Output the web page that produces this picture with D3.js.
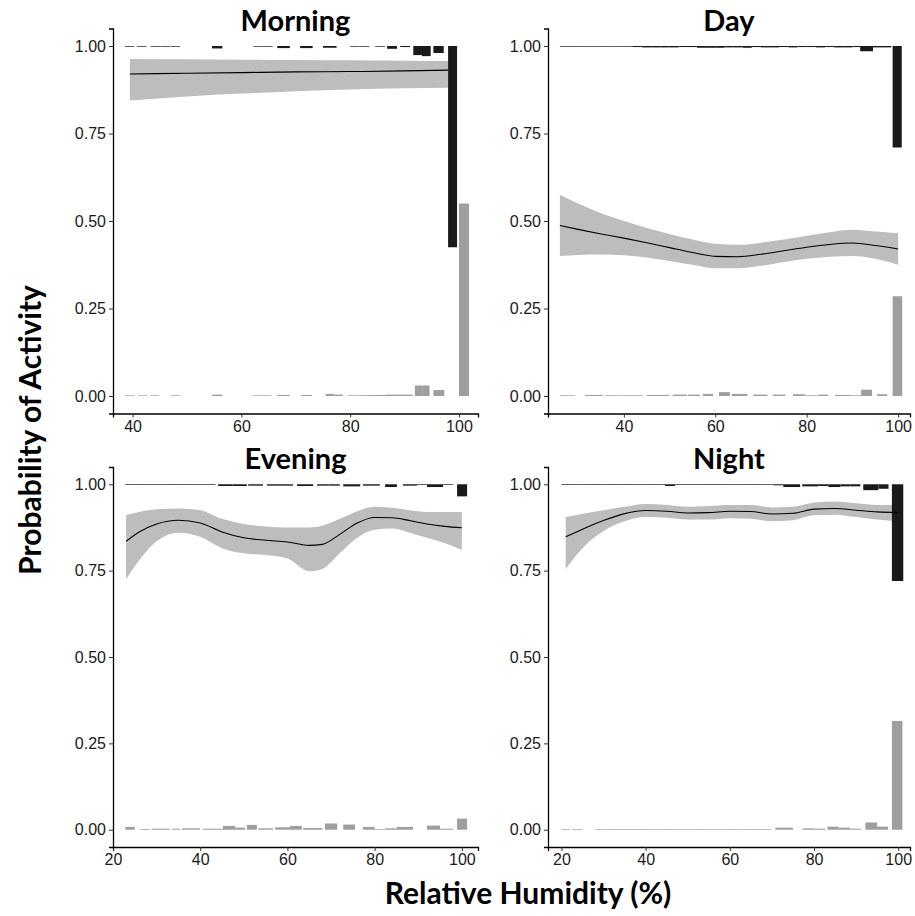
<!DOCTYPE html>
<html><head><meta charset="utf-8">
<script src="https://cdn.jsdelivr.net/npm/d3@7"></script>
<style>
html,body{margin:0;padding:0;background:#fff;}
svg{display:block;}
</style></head>
<body>
<svg id="chart" width="915" height="916"></svg>
<script>
// ---------------- DATA ----------------
const panelNames = ["Morning", "Day", "Evening", "Night"];
const yTicks = [0, 0.25, 0.5, 0.75, 1];
const yTickLabels = ["0.00", "0.25", "0.50", "0.75", "1.00"];
const xTicksMorning = [40, 60, 80, 100];
const xTicksDay = [40, 60, 80, 100];
const xTicksEvening = [20, 40, 60, 80, 100];
const xTicksNight = [20, 40, 60, 80, 100];

// fitted probability curves (RH, fit, lower, upper)
const morningRH    = [39.5, 50, 60, 70, 80, 90, 98];
const morningFit   = [0.920, 0.922, 0.924, 0.926, 0.927, 0.929, 0.931];
const morningLower = [0.844, 0.856, 0.864, 0.871, 0.876, 0.879, 0.881];
const morningUpper = [0.963, 0.962, 0.961, 0.960, 0.959, 0.958, 0.957];

const dayRH    = [26, 30, 35, 40, 45, 50, 55, 60, 65, 70, 75, 80, 85, 90, 95, 100];
const dayFit   = [0.487, 0.476, 0.463, 0.451, 0.438, 0.424, 0.410, 0.399, 0.398, 0.405, 0.415, 0.425, 0.433, 0.437, 0.430, 0.420];
const dayLower = [0.400, 0.403, 0.404, 0.402, 0.396, 0.386, 0.375, 0.365, 0.365, 0.372, 0.383, 0.392, 0.398, 0.400, 0.392, 0.375];
const dayUpper = [0.575, 0.550, 0.522, 0.500, 0.480, 0.463, 0.447, 0.435, 0.432, 0.438, 0.447, 0.458, 0.468, 0.475, 0.470, 0.465];

const eveningRH    = [23, 26, 30, 35, 40, 45, 50, 55, 60, 65, 68, 72, 76, 80, 84, 88, 92, 96, 100];
const eveningFit   = [0.835, 0.862, 0.885, 0.896, 0.888, 0.862, 0.845, 0.838, 0.833, 0.823, 0.826, 0.855, 0.888, 0.904, 0.903, 0.895, 0.885, 0.878, 0.874];
const eveningLower = [0.725, 0.780, 0.835, 0.860, 0.848, 0.815, 0.800, 0.795, 0.785, 0.748, 0.755, 0.800, 0.845, 0.868, 0.872, 0.860, 0.845, 0.830, 0.810];
const eveningUpper = [0.910, 0.920, 0.928, 0.930, 0.925, 0.900, 0.885, 0.878, 0.875, 0.875, 0.880, 0.900, 0.922, 0.935, 0.932, 0.925, 0.920, 0.920, 0.920];

const nightRH    = [21, 25, 30, 35, 40, 45, 50, 55, 60, 65, 70, 75, 80, 85, 90, 95, 100];
const nightFit   = [0.848, 0.870, 0.895, 0.915, 0.924, 0.922, 0.917, 0.918, 0.922, 0.921, 0.914, 0.916, 0.928, 0.930, 0.925, 0.920, 0.918];
const nightLower = [0.755, 0.815, 0.865, 0.893, 0.905, 0.903, 0.898, 0.898, 0.902, 0.900, 0.893, 0.896, 0.910, 0.912, 0.905, 0.898, 0.893];
const nightUpper = [0.905, 0.915, 0.925, 0.935, 0.943, 0.940, 0.935, 0.937, 0.940, 0.940, 0.933, 0.935, 0.947, 0.950, 0.945, 0.940, 0.940];

// histogram bins: [left edge RH, width RH, proportion]
// active (hanging from 1.00) and inactive (rising from 0.00)
const morningActive = [[38.6,1.75,.002],[40.8,1.75,.002],[43.3,1.75,.002],[45.1,1.75,.002],[47.0,1.75,.002],[54.6,1.9,.007],[62.2,1.75,.002],[64.0,1.75,.002],[66.6,2.3,.006],[70.8,2.3,.006],[75.0,2.5,.005],[80.0,1.75,.002],[81.8,1.75,.002],[84.6,1.8,.002],[86.8,1.8,.008],[89.2,1.8,.003],[91.6,1.6,.026],[93.2,1.6,.029],[95.3,1.9,.02],[98.0,1.65,.575]];
const morningInactive = [[38.6,1.75,.002],[41.0,1.75,.002],[43.3,1.6,.002],[47.0,1.75,.002],[54.6,1.9,.004],[62.0,1.75,.002],[63.8,1.75,.002],[66.6,2.3,.003],[71.0,2.0,.003],[75.5,1.6,.006],[77.1,1.6,.004],[79.6,1.7,.002],[81.3,1.7,.002],[83.0,1.7,.003],[84.7,1.7,.003],[86.4,1.7,.004],[88.1,1.7,.004],[89.8,1.7,.004],[91.9,1.35,.03],[93.25,1.35,.03],[95.3,2.0,.017],[100.0,1.85,.55]];

const dayActive = [[26,2,.002],[28,2,.002],[30,2,.002],[32,2,.002],[34,2,.002],[36,2,.002],[38,2,.002],[40,2,.002],[42,2,.003],[44,2,.004],[46,2,.004],[48,2,.004],[50,2,.004],[52,2,.003],[54,2,.003],[56,2,.005],[58,2,.005],[60,2,.005],[62,2,.004],[64,2,.004],[66,2,.005],[68,2,.003],[70,2,.004],[72,2,.004],[74,2,.003],[76,2,.004],[78,2,.003],[80,2,.003],[82,2,.004],[84,2,.003],[86,2,.004],[88,2,.004],[90,1.7,.003],[91.7,2.8,.015],[94.5,2,.004],[96.5,2,.004],[98.8,2,.29]];
const dayInactive = [[26,3.3,.002],[31.5,3.9,.003],[35.8,4.2,.002],[40,4.2,.002],[45,5,.003],[50.7,3.1,.004],[54,2.6,.004],[57.3,2.2,.006],[60.8,2.4,.011],[63.6,3.4,.006],[68.3,3.1,.004],[72.6,2.7,.004],[77,2.6,.005],[79.6,2.9,.002],[82.5,2.2,.004],[86.2,3.3,.003],[89.5,2.4,.002],[91.9,2.4,.018],[95.4,2.2,.005],[98.8,2.1,.285]];

const eveningActive = [[22.8,2.3,.002],[25.1,2.3,.002],[27.4,2.3,.002],[29.7,2.3,.002],[32,2.3,.002],[34.3,2.3,.002],[36.6,2.3,.002],[38.9,2.3,.002],[41.2,2.3,.002],[44.1,3.3,.005],[47.4,3.3,.005],[51,3.4,.004],[55.3,3,.004],[58.3,3,.004],[62.2,3.7,.005],[66.8,2.6,.004],[69.4,2.6,.004],[72.8,3.9,.006],[77.3,3.9,.004],[82.4,2.7,.008],[86.5,3.2,.004],[89.7,2.3,.002],[92,3.7,.008],[95.7,2.3,.002],[98.9,2.3,.035]];
const eveningInactive = [[22.8,2.2,.008],[26.2,2.3,.002],[28.9,4.1,.003],[33.5,1.9,.003],[35.8,4.2,.004],[40.6,4.6,.003],[45.2,2.8,.011],[48,2.3,.006],[50.7,2.3,.014],[53.3,3.4,.004],[57.2,3.4,.007],[60.6,2.7,.011],[63.6,4.4,.005],[68.6,2.8,.018],[72.8,2.7,.015],[77.3,2.7,.008],[80,2.4,.002],[82.4,2.7,.004],[85.1,3.7,.008],[92,3,.012],[95,3,.003],[98.9,2.3,.032]];

const nightActive = [[20,2.5,.002],[22.5,2.5,.002],[25,2.5,.002],[27.5,2.5,.002],[30,2.5,.002],[32.5,2.5,.002],[35,2.5,.002],[37.5,2.5,.002],[40,2.5,.002],[42.5,2.1,.002],[44.6,2.4,.005],[47,2.6,.002],[49.6,2.6,.002],[52.2,2.6,.002],[54.8,2.6,.002],[57.4,2.6,.002],[60,2.6,.002],[62.6,2.6,.002],[65.2,2.6,.002],[67.8,2.5,.002],[70.3,2.4,.003],[72.7,4,.008],[77.2,3.8,.006],[81,2.4,.005],[83.4,2.9,.008],[86.3,2.4,.006],[88.7,2.3,.006],[91.7,3.6,.017],[95.3,2.4,.013],[98.5,2.7,.28]];
const nightInactive = [[20,2,.002],[22.5,2.5,.002],[28,2.7,.002],[30.7,2.7,.002],[33.4,2.6,.002],[36,2.6,.002],[38.6,2.6,.002],[41.2,2.6,.002],[43.8,2.6,.002],[46.4,2.6,.002],[49,2.6,.002],[51.6,2.6,.002],[54.2,2.6,.002],[56.8,2.6,.002],[59.4,2.6,.002],[62,2.6,.002],[64.6,2.6,.002],[67.2,2.6,.002],[70.8,4.2,.006],[77.3,2.7,.004],[80,2.8,.003],[83.2,2.6,.009],[85.8,2.8,.006],[88.6,2.6,.003],[92.2,2.8,.021],[95,2.6,.009],[98.5,2.5,.315]];

// ---------------- LAYOUT ----------------
const panels = [
  {name: panelNames[0], rh: morningRH, fit: morningFit, lo: morningLower, hi: morningUpper, act: morningActive, inact: morningInactive, xt: xTicksMorning,
   xd: [36.4, 103.5], left: 113, right: 478, top: 28.5, bottom: 413.5},
  {name: panelNames[1], rh: dayRH, fit: dayFit, lo: dayLower, hi: dayUpper, act: dayActive, inact: dayInactive, xt: xTicksDay,
   xd: [23.4, 102.6], left: 548, right: 910, top: 28.5, bottom: 413.5},
  {name: panelNames[2], rh: eveningRH, fit: eveningFit, lo: eveningLower, hi: eveningUpper, act: eveningActive, inact: eveningInactive, xt: xTicksEvening,
   xd: [20, 103.7], left: 113, right: 478, top: 467, bottom: 847},
  {name: panelNames[3], rh: nightRH, fit: nightFit, lo: nightLower, hi: nightUpper, act: nightActive, inact: nightInactive, xt: xTicksNight,
   xd: [16.8, 102.8], left: 548, right: 910, top: 467, bottom: 847}
];

const svg = d3.select("#chart");
const tickFont = "'Liberation Sans', Arial, sans-serif";
const titleFont = "Lato, 'Open Sans', sans-serif";

panels.forEach(p => {
  const x = d3.scaleLinear().domain(p.xd).range([p.left, p.right]);
  const y = d3.scaleLinear().domain([-0.05, 1.05]).range([p.bottom, p.top]);
  const g = svg.append("g");

  const pts = p.rh.map((r, i) => ({r, f: p.fit[i], lo: p.lo[i], hi: p.hi[i]}));

  // confidence band
  g.append("path").datum(pts)
    .attr("fill", "#bdbdbd")
    .attr("d", d3.area().curve(d3.curveMonotoneX).x(d => x(d.r)).y0(d => y(d.lo)).y1(d => y(d.hi)));

  // active histogram (hanging from 1)
  g.selectAll(".act").data(p.act).enter().append("rect")
    .attr("x", d => x(d[0])).attr("width", d => x(d[0] + d[1]) - x(d[0]))
    .attr("y", y(1)).attr("height", d => y(1 - d[2]) - y(1))
    .attr("fill", "#1a1a1a");

  // inactive histogram (rising from 0)
  g.selectAll(".inact").data(p.inact).enter().append("rect")
    .attr("x", d => x(d[0])).attr("width", d => x(d[0] + d[1]) - x(d[0]))
    .attr("y", d => y(d[2])).attr("height", d => y(0) - y(d[2]))
    .attr("fill", "#9e9e9e");

  // fitted line
  g.append("path").datum(pts)
    .attr("fill", "none").attr("stroke", "#000").attr("stroke-width", 1.1)
    .attr("d", d3.line().curve(d3.curveMonotoneX).x(d => x(d.r)).y(d => y(d.f)));

  // axes
  const xAxis = d3.axisBottom(x).tickValues(p.xt).tickFormat(d3.format("d")).tickSizeOuter(0).tickSize(4).tickPadding(3);
  const yAxis = d3.axisLeft(y).tickValues(yTicks).tickFormat(d => yTickLabels[yTicks.indexOf(d)]).tickSizeOuter(0).tickSize(4).tickPadding(3);

  const gx = g.append("g").attr("transform", `translate(0,${p.bottom})`).call(xAxis);
  const gy = g.append("g").attr("transform", `translate(${p.left},0)`).call(yAxis);
  [gx, gy].forEach(a => {
    a.select(".domain").attr("stroke", "#000").attr("stroke-width", 1.3);
    a.selectAll(".tick line").attr("stroke", "#333").attr("stroke-width", 1);
    a.selectAll(".tick text").attr("font-family", tickFont).attr("font-size", 16).attr("fill", "#1a1a1a");
  });

  // panel title
  g.append("text")
    .attr("x", (p.left + p.right) / 2).attr("y", p.top + 2)
    .attr("text-anchor", "middle")
    .attr("font-family", titleFont).attr("font-weight", 700).attr("font-size", 29)
    .attr("fill", "#000")
    .text(p.name);
});

// axis titles
svg.append("text")
  .attr("x", 528).attr("y", 904)
  .attr("text-anchor", "middle")
  .attr("font-family", titleFont).attr("font-weight", 700).attr("font-size", 30)
  .text("Relative Humidity (%)");

svg.append("text")
  .attr("transform", "translate(41,430) rotate(-90)")
  .attr("text-anchor", "middle")
  .attr("font-family", titleFont).attr("font-weight", 700).attr("font-size", 30)
  .text("Probability of Activity");
</script>
</body></html>
